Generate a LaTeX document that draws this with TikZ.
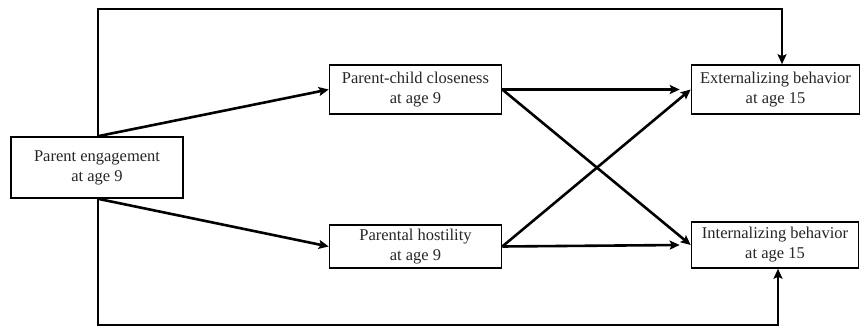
\documentclass[tikz,border=0pt]{standalone}
\usepackage{fontspec}
\setmainfont{Liberation Serif}
\usetikzlibrary{arrows.meta,calc}
\begin{document}
\begin{tikzpicture}[x=1pt,y=-1pt,
  box/.style={draw=black,line width=1.6pt,fill=white,align=center,inner sep=0pt,
    font=\fontsize{16.5}{20}\selectfont,text=black!85},
  arr/.style={line width=2.6pt,-{Stealth[length=10pt,width=9pt,inset=2pt]}},
  ln/.style={line width=2.6pt}]
\useasboundingbox (0,0) rectangle (861,328);
\node[box,minimum width=172pt,minimum height=61pt] (eng) at (97,167.5) {Parent engagement\\at age 9};
\node[box,minimum width=172pt,minimum height=49pt] (clo) at (415.5,89.5) {Parent-child closeness\\at age 9};
\node[box,minimum width=172pt,minimum height=43pt] (hos) at (415.5,246.5) {Parental hostility\\at age 9};
\node[box,minimum width=168pt,minimum height=49pt] (ext) at (775.5,89.5) {Externalizing behavior\\at age 15};
\node[box,minimum width=167pt,minimum height=46pt] (int) at (775,245) {Internalizing behavior\\at age 15};
\coordinate (tp) at (98,9);
\coordinate (bt) at (98,325);
\draw[arr] ([xshift=1pt]eng.north) -- (clo.west);
\draw[arr] ([xshift=1pt]eng.south) -- (hos.west);
\draw[arr] (clo.east) -- ([xshift=-11pt]ext.west);
\draw[arr] (clo.east) -- (int.west);
\draw[arr] (hos.east) -- (ext.west);
\draw[arr] (hos.east) -- ([xshift=-11pt]int.west);
\draw[arr] ([xshift=1pt]eng.north) -- (tp) -| ([xshift=6.5pt]ext.north);
\draw[arr] ([xshift=1pt]eng.south) -- (bt) -| ([xshift=3pt]int.south);
\end{tikzpicture}
\end{document}
